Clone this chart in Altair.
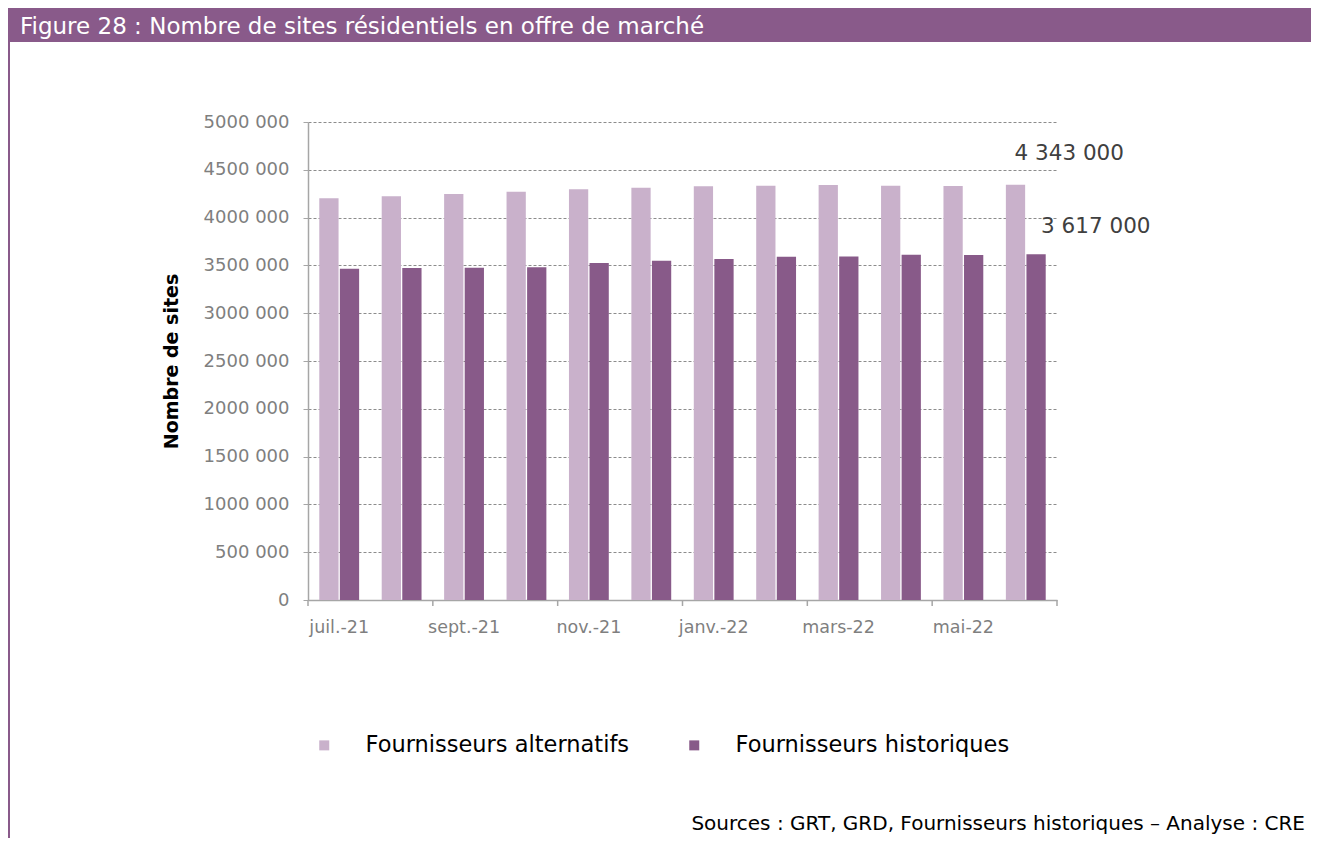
import altair as alt
import pandas as pd

# ---- data ----
months = ["juil.-21", "août-21", "sept.-21", "oct.-21", "nov.-21", "déc.-21",
          "janv.-22", "févr.-22", "mars-22", "avr.-22", "mai-22", "juin-22"]
series = ["Fournisseurs alternatifs", "Fournisseurs historiques"]
alt_vals = [4202000, 4223000, 4247000, 4271000, 4296000, 4313000,
            4327000, 4334000, 4341000, 4334000, 4330000, 4343000]
hist_vals = [3465000, 3473000, 3476000, 3480000, 3525000, 3549000,
             3567000, 3591000, 3594000, 3612000, 3609000, 3617000]
annot_labels = ["4 343 000", "3 617 000"]
y_ticks = list(range(0, 5000001, 500000))
tick_months = months[0::2]

title_txt = "Figure 28 : Nombre de sites résidentiels en offre de marché"
source_txt = "Sources : GRT, GRD, Fournisseurs historiques \u2013 Analyse : CRE"

rows = []
for m, a, h in zip(months, alt_vals, hist_vals):
    rows.append({"month": m, "series": series[0], "value": a})
    rows.append({"month": m, "series": series[1], "value": h})
df = pd.DataFrame(rows)
ann_df = pd.DataFrame({"month": [months[-1]] * 2, "series": series,
                       "value": [alt_vals[-1], hist_vals[-1]], "label": annot_labels})
one = pd.DataFrame({"k": [0]})

# ---- layout ----
W, H = 749, 478
CW, CH = 1303, 830
PL, PT = 300, 114
FONT = "DejaVu Sans"
PURPLE = "#895A8A"
GRAY = "#a6a6a6"

xscale = alt.Scale(domain=months, paddingInner=0, paddingOuter=0)
offscale = alt.Scale(domain=series, paddingInner=0.063, paddingOuter=0.549)
yscale = alt.Scale(domain=[0, 5000000])
cscale = alt.Scale(domain=series, range=["#C9B1CB", "#885A89"])

x_axis = alt.Axis(values=tick_months, labelAngle=0, ticks=False, tickSize=0,
                  labelPadding=18, labelFont=FONT, labelFontSize=17.5,
                  labelColor="#7f7f7f", domainColor=GRAY, domainWidth=1.5,
                  title=None, grid=False)
y_axis = alt.Axis(values=y_ticks,
                  labelExpr="datum.value == 0 ? '0' : format(datum.value / 1000, 'd') + ' 000'",
                  grid=True, gridDash=[3, 2], gridColor="#8c8c8c", gridWidth=1,
                  domainColor=GRAY, domainWidth=1.5, tickColor=GRAY, tickSize=5,
                  labelFont=FONT, labelFontSize=18, labelColor="#7f7f7f",
                  labelPadding=14, title="Nombre de sites", titleX=-137,
                  titleY=H / 2, titleAngle=270, titleAlign="center",
                  titleBaseline="middle", titleFont=FONT, titleFontSize=19,
                  titleFontWeight="bold", titleColor="#000000")

bars = alt.Chart(df).mark_bar().encode(
    x=alt.X("month:N", scale=xscale, sort=months, axis=x_axis),
    xOffset=alt.XOffset("series:N", scale=offscale, sort=series),
    y=alt.Y("value:Q", scale=yscale, axis=y_axis),
    color=alt.Color("series:N", scale=cscale, sort=series,
                    legend=alt.Legend(orient="none", legendX=5, legendY=612,
                                      direction="horizontal", title=None,
                                      symbolType="square", symbolSize=100,
                                      symbolStrokeWidth=0, labelFont=FONT,
                                      labelFontSize=22.5, labelColor="#000000",
                                      labelOffset=30, columnPadding=53, padding=0,
                                      labelLimit=500)),
)

ticks = alt.Chart(pd.DataFrame({"month": tick_months})).mark_rule(
    color=GRAY, strokeWidth=1.5).encode(
    x=alt.X("month:N", scale=xscale, sort=months, bandPosition=0, axis=x_axis),
    y=alt.value(H), y2=alt.value(H + 6))
end_tick = alt.Chart(one).mark_rule(color=GRAY, strokeWidth=1.5).encode(
    x=alt.value(W), y=alt.value(H), y2=alt.value(H + 6))

ann_alt = alt.Chart(ann_df).transform_filter(alt.datum.series == series[0]).mark_text(
    align="left", baseline="middle", dx=-1, dy=-31, font=FONT, fontSize=21.5,
    color="#404040").encode(
    x=alt.X("month:N", scale=xscale, sort=months, axis=x_axis),
    xOffset=alt.XOffset("series:N", scale=offscale, sort=series),
    y=alt.Y("value:Q", scale=yscale, axis=y_axis), text="label:N")
ann_hist = alt.Chart(ann_df).transform_filter(alt.datum.series == series[1]).mark_text(
    align="left", baseline="middle", dx=5, dy=-27, font=FONT, fontSize=21.5,
    color="#404040").encode(
    x=alt.X("month:N", scale=xscale, sort=months, axis=x_axis),
    xOffset=alt.XOffset("series:N", scale=offscale, sort=series),
    y=alt.Y("value:Q", scale=yscale, axis=y_axis), text="label:N")

title_bar = alt.Chart(one).mark_rect(color=PURPLE).encode(
    x=alt.value(-PL), x2=alt.value(CW - PL), y=alt.value(-PT), y2=alt.value(-PT + 34))
border = alt.Chart(one).mark_rect(color=PURPLE).encode(
    x=alt.value(-PL), x2=alt.value(-PL + 2), y=alt.value(-PT + 34), y2=alt.value(CH - PT))
title_text = alt.Chart(one).mark_text(
    text=title_txt, align="left", baseline="middle", font=FONT, fontSize=23,
    color="#ffffff").encode(x=alt.value(-PL + 12), y=alt.value(-PT + 19))
source = alt.Chart(one).mark_text(
    text=source_txt, align="right", baseline="alphabetic", font=FONT, fontSize=20,
    color="#000000").encode(x=alt.value(CW - PL - 6), y=alt.value(CH - PT - 8))

chart = alt.layer(bars, ticks, end_tick, ann_alt, ann_hist,
                  title_bar, border, title_text, source).properties(
    width=W, height=H,
    padding={"left": PL, "top": PT, "right": CW - PL - W, "bottom": CH - PT - H},
    autosize=alt.AutoSizeParams(type="none"),
).configure_view(stroke=None)

chart.save("out.html", embed_options={"renderer": "svg", "actions": False})
